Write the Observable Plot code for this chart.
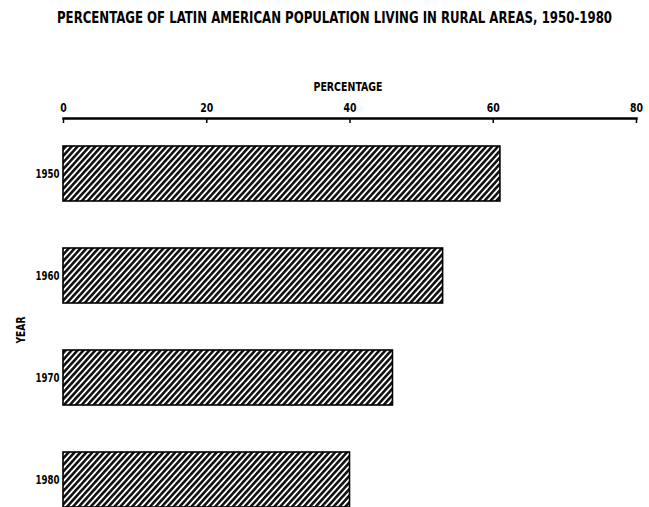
<!DOCTYPE html>
<html>
<head>
<meta charset="utf-8">
<script src="https://cdn.jsdelivr.net/npm/d3@7"></script>
<script src="https://cdn.jsdelivr.net/npm/@observablehq/plot@0.6"></script>
<style>
  html, body { margin: 0; padding: 0; background: #fff; overflow: hidden; }
  body { width: 649px; height: 507px; position: relative; }
  #title {
    position: absolute; left: 57px; top: 10px; white-space: nowrap;
    font-family: "Liberation Sans Narrow", "DejaVu Sans Condensed", "DejaVu Sans", sans-serif;
    font-stretch: condensed; font-weight: bold; font-size: 15px; color: #000;
    transform-origin: 0 0; line-height: 16px;
  }
  #head { height: 40px; }
  svg text { font-family: "Liberation Sans Narrow", "DejaVu Sans Condensed", "DejaVu Sans", sans-serif; font-stretch: condensed; font-weight: bold; }
</style>
</head>
<body>
<div id="head"><div id="title">PERCENTAGE OF LATIN AMERICAN POPULATION LIVING IN RURAL AREAS, 1950-1980</div></div>
<div id="chart"></div>
<script>
const years = ["1950", "1960", "1970", "1980"];
const ruralPct = [61, 53, 46, 40];
const xTicks = [0, 20, 40, 60, 80];
const xLabel = "PERCENTAGE";
const yLabel = "YEAR";

const data = years.map((y, i) => ({year: y, pct: ruralPct[i]}));

const chart = Plot.plot({
  width: 649,
  height: 467,
  marginTop: 78,
  marginLeft: 63,
  marginRight: 13,
  marginBottom: 0,
  style: {fontSize: "12px", color: "#000", background: "#fff"},
  x: {domain: [0, 80], axis: null},
  y: {domain: years, paddingInner: 0.46, paddingOuter: 0.13, align: 1, axis: null},
  marks: [
    Plot.barX(data, {y: "year", x: "pct", fill: "url(#hatch)", stroke: "#000", strokeWidth: 1.6}),
    Plot.frame({anchor: "top", strokeWidth: 2.5, stroke: "#000"}),
    Plot.axisX(xTicks, {anchor: "top", tickSize: -4, tickPadding: 11, strokeWidth: 1.5, tickFormat: d => String(d), label: null, fontSize: 12}),
    Plot.axisY({tickSize: 0, tickPadding: 4, label: null, fontSize: 12}),
    Plot.text([xLabel], {frameAnchor: "top", dx: -2, dy: -36, fontSize: 11.5, fontWeight: "bold"}),
    Plot.text([yLabel], {frameAnchor: "left", textAnchor: "middle", rotate: -90, dx: -43, dy: 17, fontSize: 13, fontWeight: "bold"})
  ]
});

// hatch pattern definition
const ns = "http://www.w3.org/2000/svg";
const defs = document.createElementNS(ns, "defs");
const pat = document.createElementNS(ns, "pattern");
pat.setAttribute("id", "hatch");
pat.setAttribute("patternUnits", "userSpaceOnUse");
pat.setAttribute("width", "4.4");
pat.setAttribute("height", "10");
pat.setAttribute("patternTransform", "rotate(42)");
const bg = document.createElementNS(ns, "rect");
bg.setAttribute("width", "4.4"); bg.setAttribute("height", "10"); bg.setAttribute("fill", "#fff");
const ln = document.createElementNS(ns, "rect");
ln.setAttribute("width", "2.6"); ln.setAttribute("height", "10"); ln.setAttribute("fill", "#111");
pat.appendChild(bg); pat.appendChild(ln); defs.appendChild(pat);
chart.insertBefore(defs, chart.firstChild);

document.getElementById("chart").appendChild(chart);

// narrow the lettering to match the condensed typeface of the original
const xTickStrings = xTicks.map(String);
chart.querySelectorAll("text").forEach(t => {
  const s = t.textContent.trim();
  let len = null;
  if (years.includes(s)) len = 24;
  else if (xTickStrings.includes(s)) len = 6.5 * s.length;
  else if (s === xLabel) len = 69;
  else if (s === yLabel) len = 27;
  if (len != null) {
    t.setAttribute("textLength", len);
    t.setAttribute("lengthAdjust", "spacingAndGlyphs");
  }
});

// fit title to reference width
const title = document.getElementById("title");
const w = title.getBoundingClientRect().width;
title.style.transform = `scaleX(${555 / w})`;
</script>
</body>
</html>
